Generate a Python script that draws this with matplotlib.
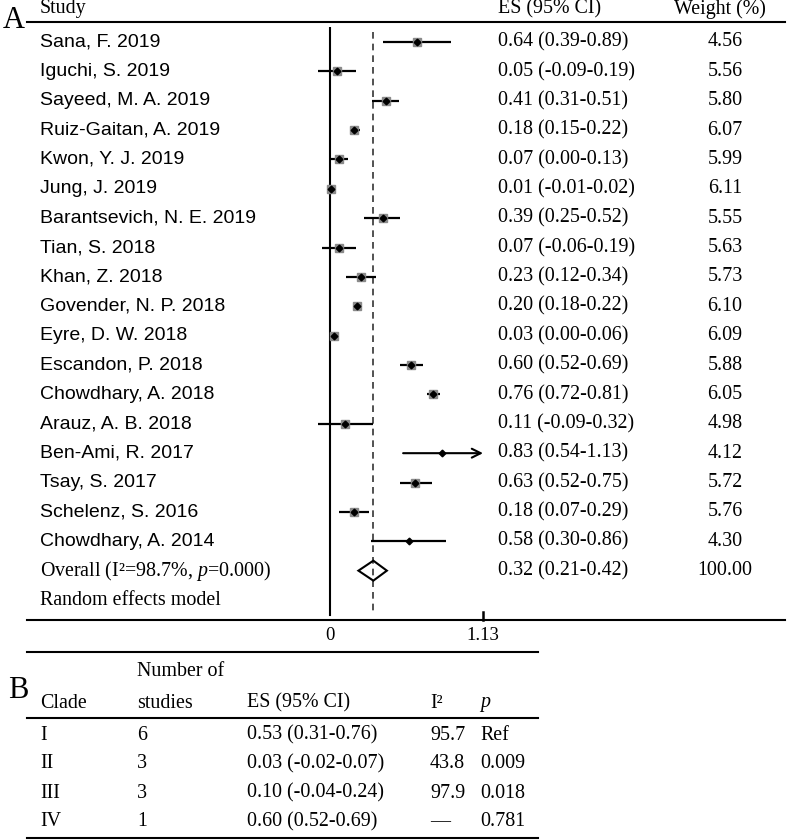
import numpy as np
import matplotlib
matplotlib.use("Agg")
import matplotlib.pyplot as plt
from matplotlib.patches import Polygon

plt.rcParams["mathtext.fontset"] = "custom"
plt.rcParams["mathtext.rm"] = "Liberation Serif"
plt.rcParams["mathtext.it"] = "Liberation Serif:italic"

# ---- panel A data ----
studies = ["Sana, F. 2019", "Iguchi, S. 2019", "Sayeed, M. A. 2019", "Ruiz-Gaitan, A. 2019",
           "Kwon, Y. J. 2019", "Jung, J. 2019", "Barantsevich, N. E. 2019", "Tian, S. 2018",
           "Khan, Z. 2018", "Govender, N. P. 2018", "Eyre, D. W. 2018", "Escandon, P. 2018",
           "Chowdhary, A. 2018", "Arauz, A. B. 2018", "Ben-Ami, R. 2017", "Tsay, S. 2017",
           "Schelenz, S. 2016", "Chowdhary, A. 2014"]
es = [0.64, 0.05, 0.41, 0.18, 0.07, 0.01, 0.39, 0.07, 0.23, 0.20, 0.03, 0.60, 0.76, 0.11, 0.83, 0.63, 0.18, 0.58]
ci_lo = [0.39, -0.09, 0.31, 0.15, 0.00, -0.01, 0.25, -0.06, 0.12, 0.18, 0.00, 0.52, 0.72, -0.09, 0.54, 0.52, 0.07, 0.30]
ci_hi = [0.89, 0.19, 0.51, 0.22, 0.13, 0.02, 0.52, 0.19, 0.34, 0.22, 0.06, 0.69, 0.81, 0.32, 1.13, 0.75, 0.29, 0.86]
weights = [4.56, 5.56, 5.80, 6.07, 5.99, 6.11, 5.55, 5.63, 5.73, 6.10, 6.09, 5.88, 6.05, 4.98, 4.12, 5.72, 5.76, 4.30]
overall = (0.32, 0.21, 0.42)
axis_max = 1.13

# ---- panel B data ----
clades = ["I", "II", "III", "IV"]
n_studies = ["6", "3", "3", "1"]
clade_ci = ["0.53 (0.31-0.76)", "0.03 (-0.02-0.07)", "0.10 (-0.04-0.24)", "0.60 (0.52-0.69)"]
clade_i2 = ["95.7", "43.8", "97.9", "\u2014"]
clade_p = ["Ref", "0.009", "0.018", "0.781"]

SERIF = "Liberation Serif"
SANS = "Liberation Sans"
fs = 14.4      # serif text
fs_sans = 14   # study names

fig = plt.figure(figsize=(7.87, 8.4), dpi=100)

# page axes in pixel units for the text columns and rules
page = fig.add_axes([0, 0, 1, 1])
page.set_xlim(0, 787)
page.set_ylim(840, 0)
page.axis("off")

row0, step = 42, 29.37
def ry(i):
    return row0 + i * step

# forest axes: x in effect units, y in row units
px_per_unit = 135.4
x0_px = 330
xmin, xmax = -0.25, 1.25
top_px, bot_px = 27, 620
ax = fig.add_axes([(x0_px + xmin * px_per_unit) / 787, (840 - bot_px) / 840,
                   (xmax - xmin) * px_per_unit / 787, (bot_px - top_px) / 840])
ax.set_xlim(xmin, xmax)
ax.set_ylim((bot_px - row0) / step, (top_px - row0) / step)
ax.axis("off")
ax.patch.set_alpha(0)

ax.plot([0, 0], [-0.5, 19.51], color="black", lw=1.5)
ax.plot([overall[0]] * 2, [-0.35, 19.5], color="#333333", lw=1.2, ls=(0, (4, 3)))

for i, (e, lo, hi, w) in enumerate(zip(es, ci_lo, ci_hi, weights)):
    if hi >= axis_max:
        ax.annotate("", xy=(axis_max, i), xytext=(lo, i),
                    arrowprops=dict(arrowstyle="->", lw=1.5, color="black",
                                    shrinkA=0, shrinkB=0, mutation_scale=16))
    else:
        ax.plot([lo, hi], [i, i], color="black", lw=1.6, solid_capstyle="butt")
    if w >= 4.5:
        side = 6.4 * np.sqrt(w / 6.1)
        ax.plot(e, i, marker="s", ms=side, color="#8a8a8a", mec="#8a8a8a", zorder=3)
    ax.plot(e, i, marker="D", ms=3.4, color="black", zorder=4)

r = len(studies)
e, lo, hi = overall
ax.add_patch(Polygon([(lo, r), (e, r - 0.34), (hi, r), (e, r + 0.34)],
                     closed=True, fill=False, ec="black", lw=1.5, zorder=5))

# axis tick and labels
ymax = (bot_px - row0) / step
ax.plot([axis_max, axis_max], [ymax - 0.28, ymax], color="black", lw=1.8, clip_on=False)
for t, lab in [(0, "0"), (axis_max, "1.13")]:
    ax.text(t, ymax + 0.52, lab, ha="center", va="center", family=SERIF, fontsize=13.5, clip_on=False)

# header
page.text(3, 21, "A", family=SERIF, fontsize=22, va="center", ha="left")
page.text(40, 9, "Study", family=SERIF, fontsize=fs, va="center")
page.text(498, 9, "ES (95% CI)", family=SERIF, fontsize=fs, va="center")
page.text(720, 9, "Weight (%)", family=SERIF, fontsize=fs, va="center", ha="center")
page.plot([27, 785], [22, 22], color="black", lw=1.5)

for i, name in enumerate(studies):
    page.text(40, ry(i), name, family=SANS, fontsize=fs_sans, va="center")
    page.text(498, ry(i), f"{es[i]:.2f} ({ci_lo[i]:.2f}-{ci_hi[i]:.2f})", family=SERIF, fontsize=fs, va="center")
    page.text(725, ry(i), f"{weights[i]:.2f}", family=SERIF, fontsize=fs, va="center", ha="center")

page.text(40, ry(r), "Overall (I\u00b2=98.7%, $p$=0.000)", family=SERIF, fontsize=fs, va="center")
page.text(498, ry(r), f"{overall[0]:.2f} ({overall[1]:.2f}-{overall[2]:.2f})", family=SERIF, fontsize=fs, va="center")
page.text(725, ry(r), "100.00", family=SERIF, fontsize=fs, va="center", ha="center")
page.text(40, ry(r + 1), "Random effects model", family=SERIF, fontsize=fs, va="center")
page.plot([27, 785], [620, 620], color="black", lw=1.5)

# ---- panel B table ----
page.text(8, 690, "B", family=SERIF, fontsize=22, va="center", ha="left")
page.plot([27, 538], [652, 652], color="black", lw=1.5)
col_x = [40, 137, 247, 430, 480]
page.text(col_x[1], 672, "Number of", family=SERIF, fontsize=fs, va="center")
page.text(col_x[0], 703, "Clade", family=SERIF, fontsize=fs, va="center")
page.text(col_x[1], 703, "studies", family=SERIF, fontsize=fs, va="center")
page.text(col_x[2], 703, "ES (95% CI)", family=SERIF, fontsize=fs, va="center")
page.text(col_x[3], 703, "I\u00b2", family=SERIF, fontsize=fs, va="center")
page.text(col_x[4], 703, "p", family=SERIF, fontsize=fs, va="center", style="italic")
page.plot([27, 538], [718, 718], color="black", lw=1.5)
for j in range(len(clades)):
    y = 735 + j * 29
    for x, val in zip(col_x, [clades[j], n_studies[j], clade_ci[j], clade_i2[j], clade_p[j]]):
        page.text(x, y, val, family=SERIF, fontsize=fs, va="center")
page.plot([27, 538], [838, 838], color="black", lw=1.5)

fig.savefig("out.png", dpi=100)
